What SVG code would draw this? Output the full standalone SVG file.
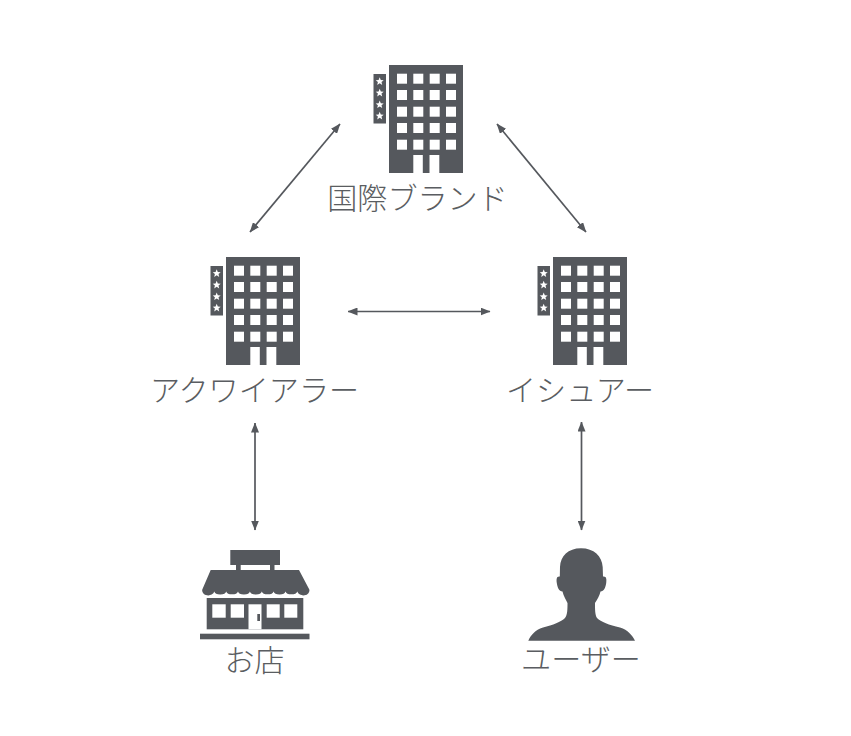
<svg xmlns="http://www.w3.org/2000/svg" xmlns:xlink="http://www.w3.org/1999/xlink" width="851" height="736" viewBox="0 0 851 736">
<style>
.ic{fill:#55585d}
.w{fill:#fff}
.t{font-family:"Noto Sans CJK JP","Noto Sans CJK SC",sans-serif;font-size:30.1px;font-weight:300;fill:#5a5d61;text-anchor:middle}
.c{stroke:#55585d;stroke-width:1.7;fill:none;marker-start:url(#a);marker-end:url(#a)}
</style>
<defs>
<marker id="a" viewBox="0 0 10 8" refX="9.5" refY="4" markerWidth="10" markerHeight="8" markerUnits="userSpaceOnUse" orient="auto-start-reverse"><path d="M0 0L10 4L0 8Z" fill="#55585d"/></marker>
<polygon id="star" points="0,-4.2 1.1,-1.4 4,-1.3 1.8,0.5 2.5,3.4 0,1.8 -2.5,3.4 -1.8,0.5 -4,-1.3 -1.1,-1.4"/>
<g id="hotel">
<rect class="ic" x="389" y="65" width="74" height="108"/>
<rect class="ic" x="373.5" y="74" width="12.5" height="49.5"/>
<g class="w">
<rect x="397" y="73.7" width="10" height="10"/><rect x="413.3" y="73.7" width="10" height="10"/><rect x="429.7" y="73.7" width="10" height="10"/><rect x="446" y="73.7" width="10" height="10"/>
<rect x="397" y="90" width="10" height="10"/><rect x="413.3" y="90" width="10" height="10"/><rect x="429.7" y="90" width="10" height="10"/><rect x="446" y="90" width="10" height="10"/>
<rect x="397" y="106.7" width="10" height="10"/><rect x="413.3" y="106.7" width="10" height="10"/><rect x="429.7" y="106.7" width="10" height="10"/><rect x="446" y="106.7" width="10" height="10"/>
<rect x="397" y="123" width="10" height="10"/><rect x="413.3" y="123" width="10" height="10"/><rect x="429.7" y="123" width="10" height="10"/><rect x="446" y="123" width="10" height="10"/>
<rect x="397" y="139.7" width="10" height="10"/><rect x="413.3" y="139.7" width="10" height="10"/><rect x="429.7" y="139.7" width="10" height="10"/><rect x="446" y="139.7" width="10" height="10"/>
<rect x="413.3" y="155" width="9.5" height="18"/><rect x="429.5" y="155" width="9.8" height="18"/>
<use xlink:href="#star" href="#star" x="379.7" y="81.5"/><use xlink:href="#star" href="#star" x="379.7" y="93"/><use xlink:href="#star" href="#star" x="379.7" y="104.7"/><use xlink:href="#star" href="#star" x="379.7" y="116"/>
</g>
</g>
</defs>
<rect width="851" height="736" fill="#fff"/>
<g id="connectors">
<line class="c" x1="340" y1="124" x2="250" y2="232"/>
<line class="c" x1="497" y1="124" x2="586" y2="232"/>
<line class="c" x1="348" y1="311.5" x2="490" y2="311.5"/>
<line class="c" x1="255" y1="423" x2="255" y2="530"/>
<line class="c" x1="581.5" y1="422" x2="581.5" y2="530"/>
</g>
<g id="brand">
<use href="#hotel"/>
<text class="t" x="417.5" y="209">国際ブランド</text>
</g>
<g id="acquirer">
<use href="#hotel" x="-163" y="192"/>
<text class="t" x="254.5" y="401">アクワイアラー</text>
</g>
<g id="issuer">
<use href="#hotel" x="164" y="192"/>
<text class="t" x="580" y="401">イシュアー</text>
</g>
<g id="shop">
<rect class="ic" x="230.3" y="550" width="49.7" height="15"/>
<rect class="ic" x="236" y="565" width="4.7" height="6"/>
<rect class="ic" x="270" y="565" width="4.5" height="6"/>
<path class="ic" d="M210.7 570H299L309.3 589.5a5 4 0 0 1-12 2a6 3.5 0 0 1-11.8 0a6 3.5 0 0 1-11.9 0a6 3.5 0 0 1-11.8 0a6 3.5 0 0 1-11.9 0a6 3.5 0 0 1-11.9 0a6 3.5 0 0 1-11.8 0a6 3.5 0 0 1-11.9 0a5 4 0 0 1-12-2Z"/>
<rect class="ic" x="206.7" y="598" width="96.6" height="31.3"/>
<g class="w">
<rect x="212.3" y="604.3" width="13.4" height="13.4"/><rect x="230.7" y="604.3" width="13.3" height="13.4"/>
<rect x="266.7" y="604.3" width="13" height="13.4"/><rect x="284.3" y="604.3" width="13" height="13.4"/>
<rect x="248.5" y="604.3" width="13" height="25"/>
</g>
<rect class="ic" x="257.3" y="614" width="2.7" height="7"/>
<rect class="ic" x="200" y="633.7" width="109.5" height="5.6"/>
<text class="t" x="254.5" y="671">お店</text>
</g>
<g id="user">
<path class="ic" d="M581 548.3C568 548.3 560.5 556 560 567L559.8 576.5C556.5 576 556.3 579 556.8 583C557.5 588 559 591 562.5 591.5C563.5 596 566 600 567.5 603C567.5 609 567.5 615 565 618C561 622 553 625 543 627.5C535 630 531 635 528.3 640.7H635C632 635 628 630 620 627.5C609 625 601 622 597 618C595 615 595 609 595 603C597 600 599.5 596 600.5 591.5C604 591 605.5 588 606.2 583C606.7 579 606.5 576 603 576.5L602.7 567C602 556 594 548.3 581 548.3Z"/>
<text class="t" x="581" y="670">ユーザー</text>
</g>
</svg>
